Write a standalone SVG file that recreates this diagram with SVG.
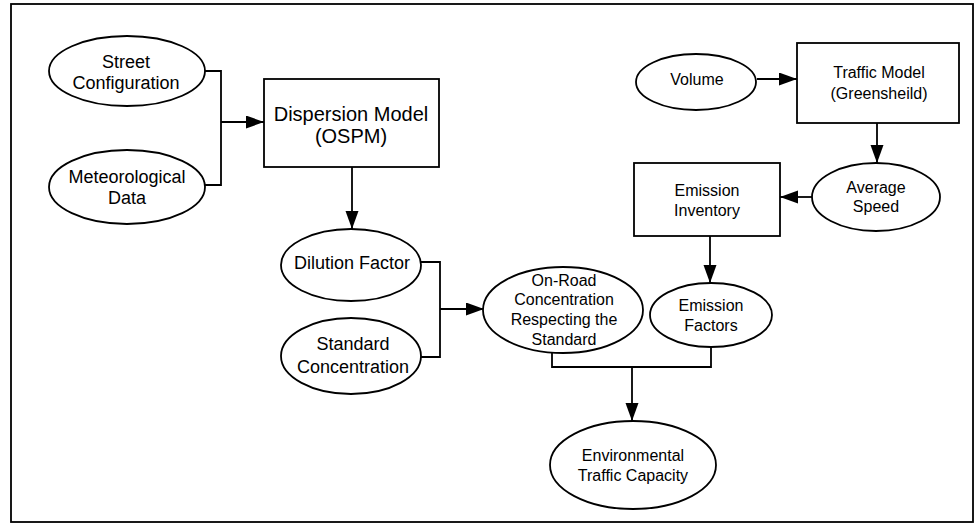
<svg xmlns="http://www.w3.org/2000/svg" width="975" height="524" viewBox="0 0 975 524">
<style>
  .shape{fill:#fff;stroke:#000;stroke-width:1.8}
  .frame{fill:none;stroke:#000;stroke-width:1.8}
  .conn{fill:none;stroke:#000;stroke-width:1.8}
  text{font-family:"Liberation Sans",Arial,sans-serif;font-size:16px;fill:#000;text-anchor:middle}
  .t18{font-size:18px}
  .t20{font-size:20px}
</style>
<defs>
  <marker id="arr" markerUnits="userSpaceOnUse" markerWidth="19" markerHeight="14" refX="18" refY="6.5" orient="auto">
    <path d="M0,0 L18,6.5 L0,13 Z" fill="#000"/>
  </marker>
</defs>
<rect class="frame" x="11" y="4" width="962" height="518"/>

<g id="connectors">
  <polyline class="conn" points="205,71 221,71 221,185 205,185"/>
  <line class="conn" x1="221" y1="122" x2="264" y2="122" marker-end="url(#arr)"/>
  <line class="conn" x1="352" y1="167" x2="352" y2="229" marker-end="url(#arr)"/>
  <polyline class="conn" points="420,262 440,262 440,357 420,357"/>
  <line class="conn" x1="440" y1="309" x2="484" y2="309" marker-end="url(#arr)"/>
  <polyline class="conn" points="552,352 552,367 711,367 711,347"/>
  <line class="conn" x1="632" y1="367" x2="632" y2="421" marker-end="url(#arr)"/>
  <line class="conn" x1="757" y1="79" x2="797" y2="79" marker-end="url(#arr)"/>
  <line class="conn" x1="877" y1="123" x2="877" y2="163" marker-end="url(#arr)"/>
  <line class="conn" x1="812" y1="197" x2="780" y2="197" marker-end="url(#arr)"/>
  <line class="conn" x1="710" y1="236" x2="710" y2="283" marker-end="url(#arr)"/>
</g>

<g id="street">
  <ellipse class="shape" cx="127" cy="71" rx="78" ry="35"/>
  <text class="t18" x="126" y="68">Street</text>
  <text class="t18" x="126" y="89">Configuration</text>
</g>
<g id="meteo">
  <ellipse class="shape" cx="127" cy="187" rx="78" ry="37"/>
  <text class="t18" x="127" y="183">Meteorological</text>
  <text class="t18" x="127" y="204">Data</text>
</g>
<g id="dispersion">
  <rect class="shape" x="264" y="79" width="175" height="88"/>
  <text class="t20" x="351" y="121">Dispersion Model</text>
  <text class="t20" x="351" y="143">(OSPM)</text>
</g>
<g id="dilution">
  <ellipse class="shape" cx="351" cy="265" rx="70" ry="36"/>
  <text class="t18" x="352" y="269">Dilution Factor</text>
</g>
<g id="standard">
  <ellipse class="shape" cx="351" cy="356" rx="70" ry="38"/>
  <text class="t18" x="353" y="350">Standard</text>
  <text class="t18" x="353" y="373">Concentration</text>
</g>
<g id="onroad">
  <ellipse class="shape" cx="563" cy="310" rx="80" ry="43"/>
  <text x="564" y="286">On-Road</text>
  <text x="564" y="305">Concentration</text>
  <text x="564" y="325">Respecting the</text>
  <text x="564" y="345">Standard</text>
</g>
<g id="emissionfactors">
  <ellipse class="shape" cx="711" cy="315" rx="61" ry="32"/>
  <text x="711" y="311">Emission</text>
  <text x="711" y="331">Factors</text>
</g>
<g id="capacity">
  <ellipse class="shape" cx="633" cy="465" rx="83" ry="44"/>
  <text x="633" y="461">Environmental</text>
  <text x="633" y="481">Traffic Capacity</text>
</g>
<g id="volume">
  <ellipse class="shape" cx="696" cy="82" rx="60" ry="28"/>
  <text x="697" y="85">Volume</text>
</g>
<g id="traffic">
  <rect class="shape" x="797" y="43" width="162" height="80"/>
  <text x="879" y="78">Traffic Model</text>
  <text x="879" y="99">(Greensheild)</text>
</g>
<g id="inventory">
  <rect class="shape" x="634" y="163" width="146" height="73"/>
  <text x="707" y="196">Emission</text>
  <text x="707" y="216">Inventory</text>
</g>
<g id="avgspeed">
  <ellipse class="shape" cx="876" cy="197" rx="64" ry="34"/>
  <text x="876" y="193">Average</text>
  <text x="876" y="212">Speed</text>
</g>
</svg>
